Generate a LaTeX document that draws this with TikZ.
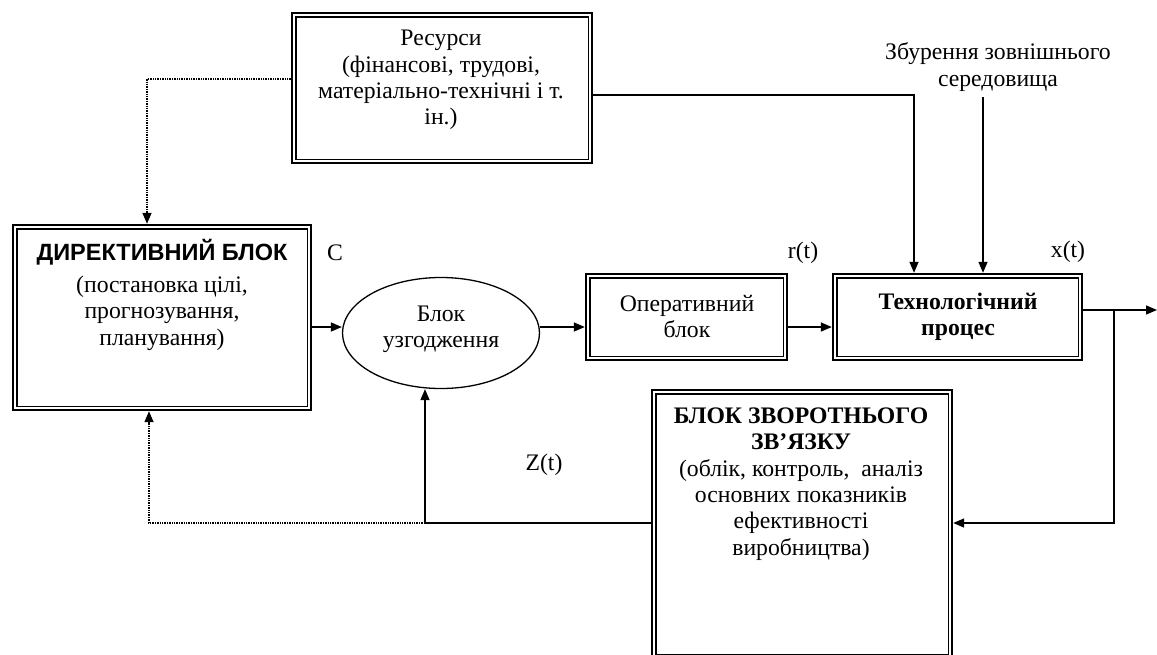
\documentclass[tikz,border=0pt]{standalone}
\usepackage{fontspec}
\setmainfont{Liberation Serif}
\newfontfamily\sansb{Liberation Sans}
\usetikzlibrary{arrows.meta,shapes.geometric}
\begin{document}
\begin{tikzpicture}[x=1pt,y=-1pt,
  txt/.style={font=\fontsize{23.7}{26.4}\selectfont, align=center, inner sep=0pt},
  outerbox/.style={draw, rectangle, line width=2.4pt, inner sep=0pt},
  innerline/.style={line width=1.4pt},
  conn/.style={line width=1.4pt},
  arr/.style={conn, -{Triangle[length=11pt,width=9pt]}},
  dots/.style={line width=1.4pt, densely dotted, -{Triangle[length=11pt,width=9pt]}}
]
\useasboundingbox (0,0) rectangle (1157,654);
\clip (0,0) rectangle (1157,654);

% boxes
\node[outerbox, minimum width=300pt, minimum height=150pt] (res) at (442,88) {};
\node[outerbox, minimum width=298pt, minimum height=185pt] (dir) at (162,317.5) {};
\node[outerbox, minimum width=201pt, minimum height=86pt] (op) at (686.5,317) {};
\node[outerbox, minimum width=249pt, minimum height=86pt] (tech) at (957.5,317) {};
\node[outerbox, minimum width=300pt, minimum height=268pt] (fb) at (802,524) {};
\node[draw, ellipse, line width=1.3pt, minimum width=197pt, minimum height=111pt, inner sep=0pt] (ell) at (441,333) {};
\foreach \n in {res,dir,op,tech,fb}
  \draw[innerline] ([shift={(5pt,-5pt)}]\n.north west) rectangle ([shift={(-5pt,5pt)}]\n.south east);

% texts
\node[txt] (restext) at (441,80) {Ресурси\\(фінансові, трудові,\\матеріально-технічні і т.\\ін.)};
\node[txt, font=\sansb\bfseries\fontsize{23.5}{26.5}\selectfont] (dirtitle) at (162,252) {ДИРЕКТИВНИЙ БЛОК};
\node[txt] (dirtext) at (162,313) {(постановка цілі,\\прогнозування,\\планування)};
\node[txt] (elltext) at (441,329) {Блок\\узгодження};
\node[txt] (optext) at (687,316.5) {Оперативний\\блок};
\node[txt, font=\bfseries\fontsize{23.7}{26.4}\selectfont] (techtext) at (958,316.5) {Технологічний\\процес};
\node[txt] (fbtext) at (801,484) {\textbf{БЛОК ЗВОРОТНЬОГО}\\\textbf{ЗВ’ЯЗКУ}\\(облік, контроль,\ \ аналіз\\основних показників\\ефективності\\виробництва)};
\node[txt] (dist) at (998,67) {Збурення зовнішнього\\середовища};
\node[txt] (lc) at (335,253) {C};
\node[txt] (lr) at (803,253) {r(t)};
\node[txt] (lx) at (1068,252) {x(t)};
\node[txt] (lz) at (544,465) {Z(t)};

% helper coordinates
\coordinate (rowA) at (0,327);
\coordinate (rowB) at (0,523);
\coordinate (dtop) at (983,97);
\coordinate (rtop) at (914,95);
\coordinate (dl) at (147,79);
\coordinate (db) at (149,523);
\coordinate (zx) at (425,523);
\coordinate (br) at (1114,310);
\coordinate (outend) at (1157,310);

% connectors
\draw[dots] (res.west |- dl) -- (dl) -- (dir.north -| dl);
\draw[arr] (res.east |- rtop) -- (rtop) -- (tech.north -| rtop);
\draw[arr] (dtop) -- (tech.north -| dtop);
\draw[arr] (dir.east |- rowA) -- (ell.west |- rowA);
\draw[arr] (ell.east |- rowA) -- (op.west |- rowA);
\draw[arr] (op.east |- rowA) -- (tech.west |- rowA);
\draw[arr] (tech.east |- outend) -- (outend);
\draw[arr] (br) -- (br |- rowB) -- (fb.east |- rowB);
\draw[arr] (fb.west |- rowB) -- (zx) -- (ell.south -| zx);
\draw[dots] (zx) -- (db) -- (dir.south -| db);
\end{tikzpicture}
\end{document}
